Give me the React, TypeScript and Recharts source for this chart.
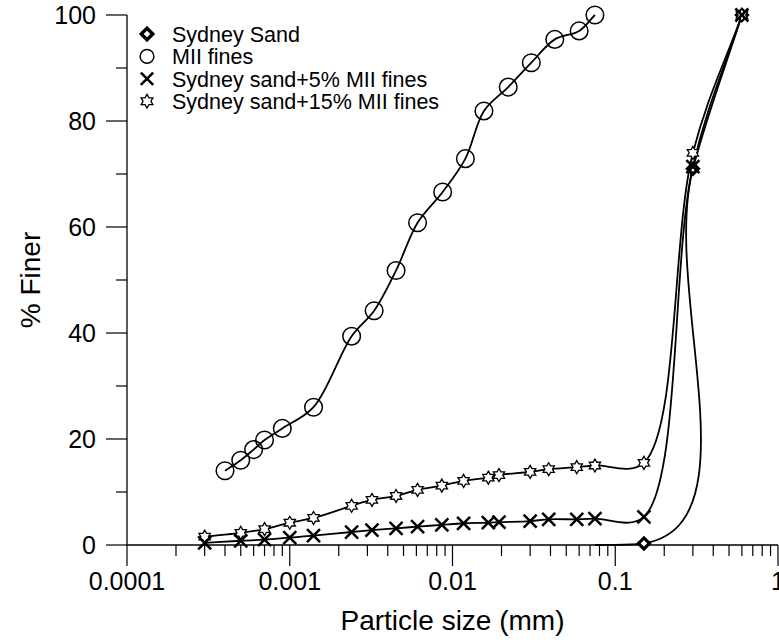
import { LineChart, Line, XAxis, YAxis, Legend } from "recharts";

// particle sizes (mm) and % finer
const miiSize = [0.0004, 0.0005, 0.0006, 0.0007, 0.0009, 0.0014, 0.0024, 0.0033, 0.0045, 0.0061, 0.0087, 0.012, 0.0156, 0.022, 0.0305, 0.0425, 0.06, 0.075];
const miiFiner = [14, 16, 18, 19.8, 22, 26, 39.4, 44.2, 51.8, 60.8, 66.6, 72.9, 81.9, 86.4, 91, 95.4, 97, 100];

const mixSize = [0.0003, 0.0005, 0.0007, 0.001, 0.0014, 0.0024, 0.0032, 0.0045, 0.0061, 0.0086, 0.0117, 0.0166, 0.0193, 0.03, 0.039, 0.058, 0.075, 0.15, 0.3, 0.6];
const mix5Finer = [0.4, 0.8, 1.0, 1.4, 1.75, 2.45, 2.8, 3.15, 3.45, 3.8, 4.1, 4.2, 4.3, 4.5, 4.85, 4.85, 4.96, 5.3, 71.4, 100];
const mix15Finer = [1.57, 2.3, 3.0, 4.2, 5.1, 7.4, 8.5, 9.25, 10.4, 11.2, 12.1, 12.7, 13.2, 13.8, 14.3, 14.7, 15.0, 15.5, 74, 100];

const sandSize = [0.075, 0.15, 0.3, 0.6];
const sandFiner = [0, 0.3, 71, 100];

const decades = [0.0001, 0.001, 0.01, 0.1, 1];
const decadeLabels = ["0.0001", "0.001", "0.01", "0.1", "1"];
const minorSteps = [2, 3, 4, 5, 6, 7, 8, 9];
const yTicks = [0, 10, 20, 30, 40, 50, 60, 70, 80, 90, 100];

const xTicks = [
  ...decades,
  ...decades.slice(0, -1).flatMap((d) => minorSteps.map((k) => k * d)),
];

const zip = (xs: number[], ys: number[]) => xs.map((x, i) => ({ x, y: ys[i] }));
const sand = zip(sandSize, sandFiner);
const mii = zip(miiSize, miiFiner);
const mix5 = zip(mixSize, mix5Finer);
const mix15 = zip(mixSize, mix15Finer);

const FONT = "Arial, 'Liberation Sans', Helvetica, sans-serif";

// Catmull-Rom spline with adjustable knot parameterisation (0.5 centripetal, 1 chordal)
function catmull(alpha: number) {
  return (ctx: any) => {
    let pts: number[][] = [];
    return {
      areaStart() {},
      areaEnd() {},
      lineStart() {
        pts = [];
      },
      point(x: number, y: number) {
        pts.push([+x, +y]);
      },
      lineEnd() {
        const n = pts.length;
        if (!n) return;
        ctx.moveTo(pts[0][0], pts[0][1]);
        if (n < 3) {
          if (n === 2) ctx.lineTo(pts[1][0], pts[1][1]);
          return;
        }
        const dist = (a: number[], b: number[]) =>
          Math.max(Math.pow(Math.hypot(b[0] - a[0], b[1] - a[1]), alpha), 1e-6);
        for (let i = 0; i < n - 1; i++) {
          const p1 = pts[i];
          const p2 = pts[i + 1];
          const p0 = i > 0 ? pts[i - 1] : [2 * p1[0] - p2[0], 2 * p1[1] - p2[1]];
          const p3 = i + 2 < n ? pts[i + 2] : [2 * p2[0] - p1[0], 2 * p2[1] - p1[1]];
          const d1 = dist(p0, p1);
          const d2 = dist(p1, p2);
          const d3 = dist(p2, p3);
          const m1 = [0, 1].map(
            (k) => ((p1[k] - p0[k]) / d1 - (p2[k] - p0[k]) / (d1 + d2) + (p2[k] - p1[k]) / d2) * d2
          );
          const m2 = [0, 1].map(
            (k) => ((p2[k] - p1[k]) / d2 - (p3[k] - p1[k]) / (d2 + d3) + (p3[k] - p2[k]) / d3) * d2
          );
          ctx.bezierCurveTo(
            p1[0] + m1[0] / 3,
            p1[1] + m1[1] / 3,
            p2[0] - m2[0] / 3,
            p2[1] - m2[1] / 3,
            p2[0],
            p2[1]
          );
        }
      },
    };
  };
}

function starPath(cx: number, cy: number, r: number) {
  const pts: string[] = [];
  for (let i = 0; i < 12; i++) {
    const a = (Math.PI / 6) * i - Math.PI / 2;
    const rr = i % 2 === 0 ? r : r * 0.58;
    pts.push(`${cx + rr * Math.cos(a)},${cy + rr * Math.sin(a)}`);
  }
  return `M${pts.join("L")}Z`;
}

function Marker({ kind, cx, cy, s = 1 }: { kind: string; cx: number; cy: number; s?: number }) {
  if (kind === "diamond") {
    const r = 5.5 * s;
    return (
      <path
        d={`M${cx},${cy - r}L${cx + r},${cy}L${cx},${cy + r}L${cx - r},${cy}Z`}
        fill="#fff"
        stroke="#000"
        strokeWidth={3.2 * s}
        strokeLinejoin="miter"
      />
    );
  }
  if (kind === "circle") {
    return <circle cx={cx} cy={cy} r={8.8 * s} fill="none" stroke="#000" strokeWidth={1.5} />;
  }
  if (kind === "cross") {
    const r = 6.5 * s;
    return (
      <g stroke="#000" strokeWidth={2.5}>
        <line x1={cx - r} y1={cy - r} x2={cx + r} y2={cy + r} />
        <line x1={cx - r} y1={cy + r} x2={cx + r} y2={cy - r} />
      </g>
    );
  }
  return <path d={starPath(cx, cy, 6.5 * s)} fill="#fff" stroke="#000" strokeWidth={1.3} />;
}

const dotFor = (kind: string) => (p: any) => {
  const key = `${kind}-${p.index}`;
  if (p.payload.y === 0 || p.cx == null) return <g key={key} />;
  return (
    <g key={key}>
      <Marker kind={kind} cx={p.cx} cy={p.cy} />
    </g>
  );
};

const XTick = (p: any) => {
  const i = decades.indexOf(p.payload.value);
  return (
    <g>
      <line x1={p.x} x2={p.x} y1={p.y} y2={p.y + (i >= 0 ? 21 : 11)} stroke="#000" strokeWidth={1.2} />
      {i >= 0 && (
        <text x={p.x} y={p.y + 45} textAnchor="middle" fontSize={25} fontFamily={FONT} fill="#000">
          {decadeLabels[i]}
        </text>
      )}
    </g>
  );
};

const YTick = (p: any) => {
  const v = p.payload.value;
  const major = v % 20 === 0;
  return (
    <g>
      <line x1={p.x - (major ? 21 : 11)} x2={p.x} y1={p.y} y2={p.y} stroke="#000" strokeWidth={1.2} />
      {major && (
        <text x={p.x - 31} y={p.y} dy="0.36em" textAnchor="end" fontSize={25} fontFamily={FONT} fill="#000">
          {v}
        </text>
      )}
    </g>
  );
};

const legendItems = [
  { name: "Sydney Sand", kind: "diamond" },
  { name: "MII fines", kind: "circle" },
  { name: "Sydney sand+5% MII fines", kind: "cross" },
  { name: "Sydney sand+15% MII fines", kind: "star" },
];

const ROW = 22.4;

const LegendBox = () => (
  <svg width={330} height={105}>
    {legendItems.map((it, i) => (
      <g key={it.name}>
        <Marker kind={it.kind} cx={11} cy={14 + i * ROW} s={it.kind === "circle" ? 0.78 : it.kind === "cross" ? 0.95 : 1.05} />
        <text x={36} y={14 + i * ROW} dy="0.36em" fontSize={21.5} fontFamily={FONT} fill="#000">
          {it.name}
        </text>
      </g>
    ))}
  </svg>
);

export default function App() {
  return (
    <div style={{ position: "absolute", left: 0, top: 0, background: "#fff" }}>
      <LineChart width={779} height={643} margin={{ top: 15, right: 1, bottom: 0, left: 0 }}>
        <XAxis
          dataKey="x"
          type="number"
          scale="log"
          domain={[0.0001, 1]}
          ticks={xTicks}
          interval={0}
          allowDataOverflow
          tickSize={0}
          tickMargin={0}
          tickLine={false}
          axisLine={{ stroke: "#000", strokeWidth: 1.3 }}
          height={98}
          tick={XTick}
          label={{
            value: "Particle size (mm)",
            position: "insideBottom",
            offset: 13,
            fontSize: 28,
            fill: "#000",
            fontFamily: FONT,
          }}
        />
        <XAxis
          xAxisId="top"
          orientation="top"
          type="number"
          scale="log"
          domain={[0.0001, 1]}
          height={0}
          tick={false}
          tickLine={false}
          axisLine={{ stroke: "#000", strokeWidth: 1.3 }}
        />
        <YAxis
          type="number"
          domain={[0, 100]}
          ticks={yTicks}
          interval={0}
          tickSize={0}
          tickMargin={0}
          tickLine={false}
          axisLine={{ stroke: "#000", strokeWidth: 1.3 }}
          width={127}
          tick={YTick}
          label={() => (
            <text
              transform="translate(40,280) rotate(-90)"
              textAnchor="middle"
              fontSize={28}
              fontFamily={FONT}
              fill="#000"
            >
              % Finer
            </text>
          )}
        />
        <YAxis
          yAxisId="right"
          orientation="right"
          type="number"
          domain={[0, 100]}
          width={0}
          tick={false}
          tickLine={false}
          axisLine={{ stroke: "#000", strokeWidth: 1.3 }}
        />
        <Legend
          layout="vertical"
          align="center"
          verticalAlign="middle"
          wrapperStyle={{ left: 136, top: 20, width: 330, height: 105 }}
          content={() => <LegendBox />}
        />
        <Line data={sand} dataKey="y" type={catmull(1) as any} stroke="#000" strokeWidth={1.8} dot={dotFor("diamond")} isAnimationActive={false} />
        <Line data={mii} dataKey="y" type={catmull(0.5) as any} stroke="#000" strokeWidth={1.8} dot={dotFor("circle")} isAnimationActive={false} />
        <Line data={mix15} dataKey="y" type={catmull(0.5) as any} stroke="#000" strokeWidth={1.8} dot={dotFor("star")} isAnimationActive={false} />
        <Line data={mix5} dataKey="y" type={catmull(0.5) as any} stroke="#000" strokeWidth={1.8} dot={dotFor("cross")} isAnimationActive={false} />
      </LineChart>
    </div>
  );
}
